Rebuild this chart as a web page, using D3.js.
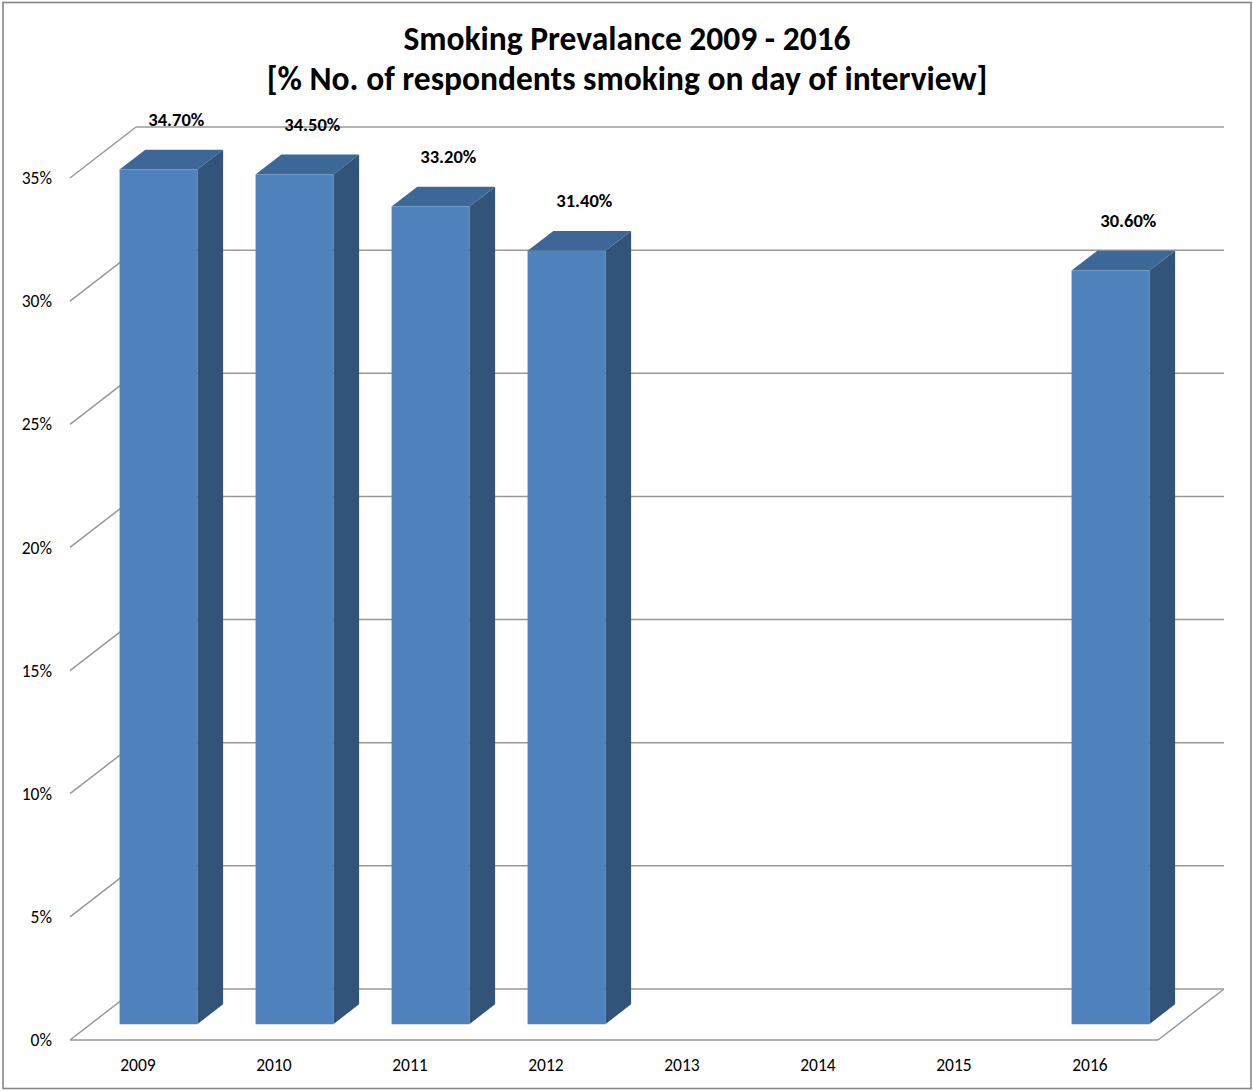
<!DOCTYPE html>
<html>
<head>
<meta charset="utf-8">
<script src="https://cdn.jsdelivr.net/npm/d3@7/dist/d3.min.js"></script>
<style>
  html, body { margin: 0; padding: 0; background: #fff; }
  svg { display: block; }
  text { font-family: Carlito, Calibri, Lato, "Open Sans", sans-serif; fill: #000; }
</style>
</head>
<body>
<svg id="chart" width="1253" height="1091"></svg>
<script>
// ---- data ----
const categories = ["2009", "2010", "2011", "2012", "2013", "2014", "2015", "2016"];
const values = [34.7, 34.5, 33.2, 31.4, null, null, null, 30.6];
const valueLabels = ["34.70%", "34.50%", "33.20%", "31.40%", "", "", "", "30.60%"];
const yTicks = [0, 5, 10, 15, 20, 25, 30, 35];
const yTickLabels = ["0%", "5%", "10%", "15%", "20%", "25%", "30%", "35%"];
const titleLines = ["Smoking Prevalance 2009 - 2016", "[% No. of respondents smoking on day of interview]"];

// ---- layout ----
const W = 1253, H = 1091;
const svg = d3.select("#chart");
const DX = 66, DY = 51;          // depth offset of the back wall
const T0 = 0.31, T1 = 0.70;      // bar depth range (fraction of depth)

const x = d3.scaleBand().domain(categories).range([70, 1158]).paddingInner(0).paddingOuter(0);
const y = d3.scaleLinear().domain([0, 35]).range([1040, 178]);
const barW = x.bandwidth() * 0.572;

const proj = (px, v, t) => [px + t * DX, y(v) - t * DY];
const line = d3.line();

// outer border
svg.append("rect").attr("x", 3).attr("y", 2.5).attr("width", 1248).attr("height", 1086)
  .attr("fill", "#fff").attr("stroke", "#868686").attr("stroke-width", 1.6);

// title
const title = svg.append("g");
const titleBaselines = [50, 90];
titleLines.forEach((t, i) => {
  title.append("text").attr("x", 627).attr("y", titleBaselines[i])
    .attr("text-anchor", "middle").attr("font-weight", "bold").attr("font-size", 33.5).text(t);
});

const gridColor = "#989898";
const grid = svg.append("g").attr("fill", "none").attr("stroke", gridColor).attr("stroke-width", 1.5);

// back-wall gridlines and left-side diagonals
yTicks.forEach(v => {
  grid.append("path").attr("d", line([proj(70, v, 1), proj(1158, v, 1)]));
  grid.append("path").attr("d", line([proj(70, v, 0), proj(70, v, 1)]));
});
// floor front edge and right edge
grid.append("path").attr("d", line([proj(70, 0, 0), proj(1158, 0, 0)]));
grid.append("path").attr("d", line([proj(1158, 0, 0), proj(1158, 0, 1)]));

// y tick labels
svg.append("g").selectAll("text").data(yTicks).join("text")
  .attr("x", 52).attr("y", d => y(d)).attr("dy", "0.35em")
  .attr("text-anchor", "end").attr("font-size", 17.5).attr("fill", "#222")
  .text((d, i) => yTickLabels[i]);

// category labels
svg.append("g").selectAll("text").data(categories).join("text")
  .attr("x", d => x(d) + x.bandwidth() / 2).attr("y", 1071)
  .attr("text-anchor", "middle").attr("font-size", 17.5).attr("fill", "#222")
  .text(d => d);

// bars
const bars = svg.append("g");
categories.forEach((c, i) => {
  const v = values[i];
  if (v == null) return;
  const x0 = x(c) + (x.bandwidth() - barW) / 2, x1 = x0 + barW;
  const g = bars.append("g");
  // side
  g.append("path").attr("fill", "#325479")
    .attr("d", line([proj(x1, 0, T0), proj(x1, 0, T1), proj(x1, v, T1), proj(x1, v, T0)]) + "Z");
  // top
  g.append("path").attr("fill", "#3c6796")
    .attr("d", line([proj(x0, v, T0), proj(x0, v, T1), proj(x1, v, T1), proj(x1, v, T0)]) + "Z");
  // front
  g.append("path").attr("fill", "#4f81bd")
    .attr("d", line([proj(x0, 0, T0), proj(x1, 0, T0), proj(x1, v, T0), proj(x0, v, T0)]) + "Z");
  // value label
  const topBack = proj((x0 + x1) / 2, v, T1);
  const topMid = proj((x0 + x1) / 2, v, (T0 + T1) / 2);
  g.append("text").attr("x", topMid[0] + 5).attr("y", topBack[1] - 24)
    .attr("text-anchor", "middle").attr("font-weight", "bold").attr("font-size", 18.5)
    .text(valueLabels[i]);
});
</script>
</body>
</html>
